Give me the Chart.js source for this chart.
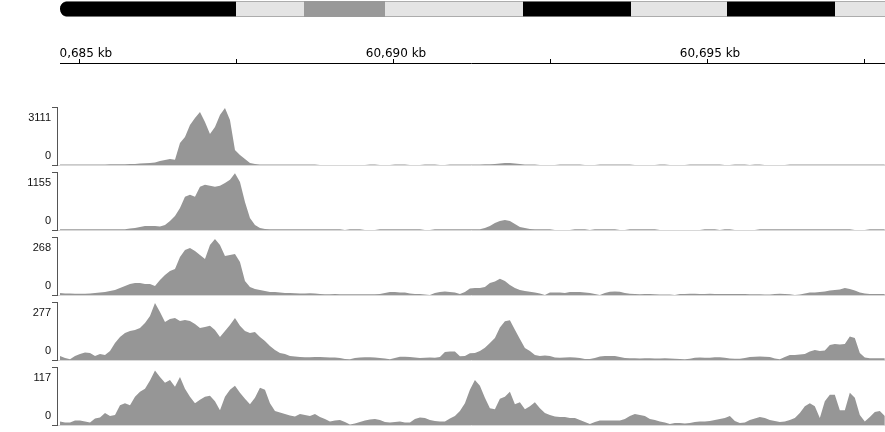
<!DOCTYPE html>
<html>
<head>
<meta charset="utf-8">
<script src="https://cdn.jsdelivr.net/npm/chart.js@4.4.1/dist/chart.umd.min.js"></script>
<style>
  html, body { margin: 0; padding: 0; background: #fff; }
  #page { position: relative; width: 885px; height: 432px; overflow: hidden; }
  canvas { position: absolute; left: 0; display: block; }
  #ruler { clip-path: inset(0 0 0 60px); }
</style>
</head>
<body>
<div id="page">
  <canvas id="ideogram" width="885" height="18" style="top:0"></canvas>
  <canvas id="ruler" width="885" height="42" style="top:23px"></canvas>
  <canvas id="t1" width="885" height="66" style="top:101px"></canvas>
  <canvas id="t2" width="885" height="66" style="top:166px"></canvas>
  <canvas id="t3" width="885" height="66" style="top:231px"></canvas>
  <canvas id="t4" width="885" height="66" style="top:296px"></canvas>
  <canvas id="t5" width="885" height="66" style="top:361px"></canvas>
</div>
<script>
// visible window (kb)
const viewStart = 60684.649;
const viewEnd = 60697.834;
// coverage bins: first bin position and bin width (kb)
const binStart = 60684.697;
const binWidth = 0.0796;

const rulerTicks = [60685, 60687.5, 60690, 60692.5, 60695, 60697.5];
const rulerLabels = ['60,685 kb', '', '60,690 kb', '', '60,695 kb', ''];

// chromosome ideogram bands (Mb)
const bandStart = [0, 17.6, 24.4, 32.5, 46.3, 57.1, 66.7, 77.5];
const bandEnd = [17.6, 24.4, 32.5, 46.3, 57.1, 66.7, 77.5, 85];
const bandStain = ['gpos100', 'gneg', 'gpos50', 'gneg', 'gpos100', 'gneg', 'gpos100', 'gneg'];
const stainColor = { gpos100: '#000000', gpos50: '#999999', gneg: '#e4e4e4' };

const trackMax = [3111, 1155, 268, 277, 117];

const track1 = [
  30,30,30,30,30,30,30,30,30,30,40,40,40,40,50,
  60,80,100,110,140,210,270,320,280,1180,1500,2140,2520,2840,2300,1660,2040,2680,3060,2410,800,540,320,110,50,30,
  30,30,30,30,30,30,30,30,30,30,30,
  0,0,0,0,0,0,0,0,0,0,
  30,30, 0,0,0, 30,30,30, 0,0,0, 30,30,30, 0,0,
  30,30,30,30,30,30,30,
  40,45,55,80,105,105,80,55,30,30,30,
  0,0,0,0, 30,30,30,30,30, 0,0,0,
  30,30,30,30,30,30,30, 0,0,0,0,0, 30,30, 0,0,0,0,
  30,30,30,30,30,30,30, 0,0, 30,30,30, 0, 30,30, 0,0,0,0,0,
  30,30,30,30,30,30,30,30,30,30,30,30,30,30,30,30,30,30,30,30
];

const track2 = [
  15,15,15,15,15,15,15,15,15,15,15,15,15,15,
  30,40,60,80,80,80,70,100,180,280,440,660,700,660,860,900,880,860,880,935,1000,1130,955,560,240,100,40,20,
  15,15,15,15,15,15,15,15,15,15,15,15,15,15,15,
  0, 15,15,15, 0,0,0,
  15,15,15,15,15,15,15,15,15, 0,0,
  15,15,15,15,15,15,15,15,15,
  15,40,80,140,180,200,180,120,60,40,20,15,
  15,15,15, 0,0,0,0, 15,15,15, 0,
  15,15,15,15,15, 0,0, 15,15,15,15,15,15,
  0,0,0,0,0,0,0,0,0, 15,15,15, 0, 15,15, 0,0,0,0,0,
  15,15,15,15,15,15,15,15,15,15,15,15,15,15,15,15,15,15,15,
  0,0,0, 15,15,15,15
];

const track3 = [
  9,7,7,6,6,6,7,9,12,14,
  18,23,32,42,51,55,55,51,51,42,
  69,92,111,120,176,208,217,203,185,166,
  231,259,231,180,185,189,152,65,37,28,
  23,18,
  14,14,12,9,9,8,7,7,8,7,
  5,4,4,5,4,4,4,4,3,3,
  3,3,5,9,14,14,12,12,7,5,
  5,2,0,9,14,16,14,12,5,14,
  30,32,32,37,55,62,75,65,46,32,
  23,18,15,12,7,0,11,12,11,9,
  14,14,14,11,9,5,0,9,15,16,
  15,9,6,5,4,5,5,3,2,2,
  2,0,5,5,6,6,5,5,6,5,
  5,5,5,5,5,5,4,4,4,2,
  2,5,6,5,4,0,2,7,12,12,
  14,16,21,23,25,32,28,21,12,7,
  5,5,5,5
];

const track4 = [
  19,10,4,19,29,36,33,19,29,24,
  43,81,110,129,139,143,153,177,210,272,
  229,182,196,201,186,191,186,172,153,158,
  163,143,110,139,167,201,163,139,129,134,
  110,91,67,48,33,29,19,17,14,
  13,13,14,14,13,12,12,10,5,3,
  10,12,13,13,12,10,7,3,10,16,
  16,14,12,10,11,12,11,14,38,41,
  41,18,19,32,33,43,58,81,105,155,
  185,190,145,100,57,43,24,19,22,19,
  12,11,12,13,12,10,5,5,10,17,
  19,19,19,14,10,8,8,7,8,8,
  7,7,8,7,6,5,3,6,11,12,
  11,11,13,13,11,7,6,6,10,14,
  16,17,16,14,7,4,14,24,24,26,
  29,41,48,43,45,72,76,74,76,112,
  105,33,12,8,8,8,8
];

const track5 = [
  7,5,5,9,9,7,5,13,15,24,
  18,20,40,44,40,57,67,73,90,110,
  97,85,91,77,97,73,57,44,51,57,
  59,48,30,57,71,79,65,53,42,55,
  75,71,44,28,25,22,19,17,22,
  20,18,22,16,12,7,9,10,6,1,
  3,6,9,11,12,10,6,5,6,7,
  5,5,12,15,14,10,8,7,7,13,
  18,28,44,71,91,79,55,34,32,53,
  57,67,42,46,32,38,46,34,24,20,
  17,16,16,14,14,10,6,2,6,9,
  9,9,9,9,12,18,22,20,18,12,
  10,7,5,2,4,4,3,4,6,7,
  7,8,10,12,14,18,8,4,5,10,
  13,16,14,10,8,6,7,10,14,24,
  38,44,38,14,48,61,61,30,30,65,
  55,20,7,16,26,28,18
];

// data-range labels: max under the top tick, 0 above the bottom tick
const rangeLabels = {
  id: 'rangeLabels',
  afterDraw(chart) {
    const { ctx } = chart;
    const y = chart.scales.y;
    ctx.save();
    ctx.font = '11px "Liberation Sans", Arial, sans-serif';
    ctx.fillStyle = '#111';
    ctx.textAlign = 'right';
    ctx.textBaseline = 'alphabetic';
    const x = y.right - 6;
    ctx.fillText(String(y.max), x, y.getPixelForValue(y.max) + 14);
    ctx.fillText('0', x, y.getPixelForValue(0) - 6);
    ctx.restore();
  }
};

// ideogram
new Chart(document.getElementById('ideogram'), {
  type: 'bar',
  data: {
    labels: ['chr'],
    datasets: bandStart.map((s, i) => ({
      data: [[s, bandEnd[i]]],
      backgroundColor: stainColor[bandStain[i]],
      borderColor: '#9a9a9a',
      borderWidth: { top: 1, bottom: 1, left: 0, right: 0 },
      borderSkipped: false,
      borderRadius: i === 0 ? { topLeft: 8, bottomLeft: 8, topRight: 0, bottomRight: 0 } : 0,
      barPercentage: 1,
      categoryPercentage: 1,
      grouped: false
    }))
  },
  options: {
    indexAxis: 'y',
    responsive: false,
    animation: false,
    events: [],
    layout: { padding: { left: 60, right: 0, top: 1, bottom: 1 } },
    plugins: { legend: { display: false }, tooltip: { enabled: false } },
    scales: {
      x: { display: false, min: 0, max: 82.5 },
      y: { display: false }
    }
  }
});

// ruler
new Chart(document.getElementById('ruler'), {
  type: 'scatter',
  data: { datasets: [] },
  options: {
    responsive: false,
    animation: false,
    events: [],
    layout: { padding: { left: 57, right: 0, top: 0, bottom: 0 } },
    plugins: { legend: { display: false }, tooltip: { enabled: false } },
    scales: {
      x: {
        type: 'linear',
        position: 'top',
        min: viewStart,
        max: viewEnd,
        afterBuildTicks: (s) => { s.ticks = rulerTicks.map(v => ({ value: v })); },
        afterFit: (s) => { s.height = 40; },
        border: { display: true, color: '#000', width: 1 },
        grid: { drawOnChartArea: false, drawTicks: true, tickLength: 4, color: '#000' },
        ticks: {
          autoSkip: false,
          maxRotation: 0,
          padding: 0,
          labelOffset: 3,
          color: '#000',
          font: { family: 'DejaVu Sans', size: 12, lineHeight: 0.8 },
          callback: (v, i) => rulerLabels[i]
        }
      },
      y: { display: false }
    }
  }
});

// coverage tracks
function makeTrack(id, values, maxVal) {
  new Chart(document.getElementById(id), {
    type: 'line',
    data: {
      datasets: [{
        data: values.map((v, i) => ({ x: binStart + i * binWidth, y: v })),
        fill: 'origin',
        backgroundColor: '#969696',
        borderWidth: 0,
        pointRadius: 0,
        tension: 0
      }]
    },
    options: {
      responsive: false,
      animation: false,
      events: [],
      layout: { padding: { left: 0, right: 0, top: 6, bottom: 0 } },
      plugins: { legend: { display: false }, tooltip: { enabled: false } },
      scales: {
        x: {
          type: 'linear',
          position: 'bottom',
          min: viewStart,
          max: viewEnd,
          afterFit: (s) => { s.height = 2; },
          border: { display: true, color: '#d8d8d8', width: 1 },
          grid: { display: false },
          ticks: { display: false }
        },
        y: {
          min: 0,
          max: maxVal,
          afterBuildTicks: (s) => { s.ticks = [{ value: 0 }, { value: maxVal }]; },
          afterFit: (s) => { s.width = 57; },
          border: { display: true, color: '#555', width: 1 },
          grid: { drawOnChartArea: false, drawTicks: true, tickLength: 5, color: '#555' },
          ticks: { display: false }
        }
      }
    },
    plugins: [rangeLabels]
  });
}

makeTrack('t1', track1, trackMax[0]);
makeTrack('t2', track2, trackMax[1]);
makeTrack('t3', track3, trackMax[2]);
makeTrack('t4', track4, trackMax[3]);
makeTrack('t5', track5, trackMax[4]);
</script>
</body>
</html>
